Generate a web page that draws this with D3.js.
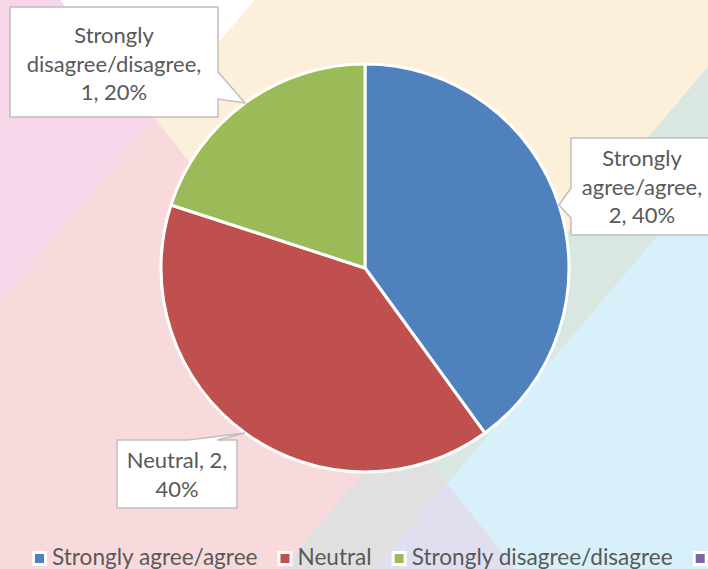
<!DOCTYPE html>
<html>
<head>
<meta charset="utf-8">
<script src="https://cdn.jsdelivr.net/npm/d3@7"></script>
<style>
  html, body { margin: 0; padding: 0; overflow: hidden; background: #fff; }
  text { font-family: Lato, "Open Sans", sans-serif; }
</style>
</head>
<body>
<svg id="chart" width="708" height="569"></svg>
<script>
// chart data
const categories = ["Strongly agree/agree", "Neutral", "Strongly disagree/disagree", ""];
const counts = [2, 2, 1, 0];
const colors = ["#4f81bd", "#c0504d", "#9bbb59", "#8064a2"];

const W = 708, H = 569;
const svg = d3.select("#chart");

// background facets, two families of diagonal lines
// family A: x + kA*y = u, family B: x - kB*y = v
const kA = 0.85, kB = 0.8;
const u0 = 255, u1 = 765, u2 = 858, v0 = 60;
function meet(u, v) { const y = (u - v) / (kA + kB); return [v + kB * y, y]; }
const far = 1000;
const facets = [
  { c: "#f9dadc", p: [[0, 0], [W, 0], [W, H], [0, H]] },
  { c: "#f8d6ea", p: [[0, 0], [u0, 0], [0, u0 / kA]] },
  { c: "#ffffff", p: [[v0, 0], [u0, 0], meet(u0, v0)] },
  { c: "#fdf0db", p: [[u0, 0], [u1, 0], meet(u1, v0), meet(u0, v0)] },
  { c: "#d9e7e2", p: [[u1, 0], [u2, 0], meet(u2, v0), meet(u1, v0)] },
  { c: "#e1e0e1", p: [meet(u1, v0), meet(u2, v0), [u2 - kA * far, far], [u1 - kA * far, far]] },
  { c: "#d8f0fa", p: [[u2, 0], [1500, 0], [1500, far], [v0 + kB * far, far], meet(u2, v0)] },
  { c: "#e0dff0", p: [meet(u2, v0), [v0 + kB * far, far], [u2 - kA * far, far]] }
];
svg.append("g").selectAll("path")
  .data(facets)
  .join("path")
  .attr("d", d => "M" + d.p.map(q => q.join(",")).join("L") + "Z")
  .attr("fill", d => d.c);

// pie
const cx = 365, cy = 268, R = 204;
const data = categories.map((name, i) => ({ name, value: counts[i], color: colors[i] }));
const total = d3.sum(counts);
const arcs = d3.pie().sort(null).value(d => d.value)(data);
const arc = d3.arc().innerRadius(0).outerRadius(R);
const edge = d3.arc().innerRadius(R).outerRadius(R);

const g = svg.append("g").attr("transform", `translate(${cx},${cy})`);
g.selectAll("path")
  .data(arcs.filter(a => a.value > 0))
  .join("path")
  .attr("d", arc)
  .attr("fill", d => d.data.color)
  .attr("stroke", "#fff")
  .attr("stroke-width", 3)
  .attr("stroke-linejoin", "round");

// data label callouts (box in page coords, notch side and span, wrap width)
const labelLayout = [
  { box: [571, 138, 713, 235], side: "left", notch: [188, 218], wrap: 130, base: 166 },
  { box: [117, 440, 237, 508], side: "top", notch: [188, 217], wrap: 114, base: 468 },
  { box: [10, 7, 218, 117], side: "right", notch: [72, 99], wrap: 188, base: 43 }
];
const lineH = 28.5;
const fmtPct = d3.format(".0%");

function calloutPath(L, tip) {
  const [x0, y0, x1, y1] = L.box, [a1, a2] = L.notch, [tx, ty] = tip;
  if (L.side === "right")
    return `M${x0},${y0}H${x1}V${a1}L${tx},${ty}L${x1},${a2}V${y1}H${x0}Z`;
  if (L.side === "left")
    return `M${x0},${y0}H${x1}V${y1}H${x0}V${a2}L${tx},${ty}L${x0},${a1}Z`;
  return `M${x0},${y0}H${a1}L${tx},${ty}L${a2},${y0}H${x1}V${y1}H${x0}Z`;
}

const labels = svg.append("g");
arcs.forEach((a, i) => {
  if (a.value <= 0 || !labelLayout[i]) return;
  const L = labelLayout[i];
  const c = edge.centroid(a);
  const tip = [cx + c[0], cy + c[1]];
  labels.append("path")
    .attr("d", calloutPath(L, tip))
    .attr("fill", "#fff")
    .attr("stroke", "#bfbfbf")
    .attr("stroke-width", 1.5);

  const words = `${a.data.name}, ${a.value}, ${fmtPct(a.value / total)}`.split(" ");
  const midX = (L.box[0] + L.box[2]) / 2;
  const t = labels.append("text")
    .attr("text-anchor", "middle")
    .attr("font-size", 22)
    .attr("fill", "#595959");
  let line = [], n = 0;
  let ts = t.append("tspan").attr("x", midX).attr("y", L.base);
  words.forEach(w => {
    line.push(w);
    ts.text(line.join(" "));
    if (ts.node().getComputedTextLength() > L.wrap && line.length > 1) {
      line.pop();
      ts.text(line.join(" "));
      line = [w];
      n++;
      ts = t.append("tspan").attr("x", midX).attr("y", L.base + n * lineH).text(w);
    }
  });
});

// legend
const legend = svg.append("g");
let lx = 32;
const ly = 565;
data.forEach(d => {
  legend.append("rect").attr("x", lx).attr("y", 551).attr("width", 15).attr("height", 15).attr("fill", "#fff");
  legend.append("rect").attr("x", lx + 3).attr("y", 554).attr("width", 9).attr("height", 9).attr("fill", d.color);
  const t = legend.append("text")
    .attr("x", lx + 20).attr("y", ly)
    .attr("font-size", 22.6)
    .attr("fill", "#595959")
    .text(d.name);
  lx += 20 + t.node().getComputedTextLength() + 20;
});
</script>
</body>
</html>
